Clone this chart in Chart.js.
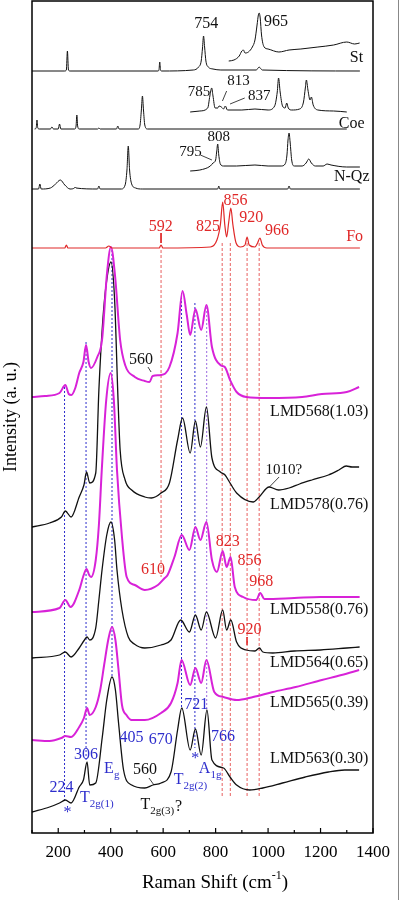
<!DOCTYPE html>
<html><head><meta charset="utf-8">
<script src="https://cdn.jsdelivr.net/npm/chart.js@4"></script>
<style>html,body{margin:0;padding:0;background:#fff}</style>
</head><body><canvas id="c" width="399" height="900"></canvas>
<script>
// ---------- data (Raman shift in cm-1, intensity in offset arbitrary units) ----------
const xTickValues = [200,400,600,800,1000,1200,1400];
const xMinorValues = [100,300,500,700,900,1100,1300];

const stX = [100,225,231,235,239,245,580,584,587,590,594,715,735,745,750,754,758,763,772,790,820,955,962,966,970,978,1350];
const stY = [762,762,763,782,763,762,762,763,771,763,762,763,766,772,785,797,786,772,766,764,763,763,765,766,765,763,762];
const stInsetX = [850,870,890,900,906,912,925,940,950,958,963,966,970,975,985,1000,1041,1080,1125,1190,1250,1300,1330,1349];
const stInsetY = [772,773,777,782,783,780,781,786,793,808,818,820,815,798,786,784,781,783,784,786,788,791,789,790];

const coeX = [110,116,119,122,128,170,176,182,200,205,210,263,268,271,274,280,350,355,360,422,427,432,505,512,517,521,525,530,540,1300];
const coeY = [704,705,713,705,704,704,706,704,704,709,704,704,707,718,707,704,704,705,704,704,707,704,704,708,723,737,723,708,704,704];
const coeInsetX = [703,740,770,778,785,790,798,808,813,822,830,837,845,900,950,1000,1025,1035,1040,1046,1055,1065,1071,1077,1090,1120,1135,1142,1146,1152,1160,1165,1172,1190,1250,1300];
const coeInsetY = [721,722,725,737,745,737,725,725,727,726,724,727,723,723,724,723,727,741,755,741,727,725,730,725,723,724,731,745,753,743,733,736,728,723,722,721];

const nqzX = [100,125,130,135,170,190,208,225,245,262,265,268,350,355,360,440,455,462,467,472,480,495,520,808,812,816,1075,1080,1085,1350];
const nqzY = [644,644,649,644,645,649,653,648,644,645,646,645,644,647,644,644,648,663,687,663,649,645,644,644,647,644,644,647,644,644];
const nqzInsetX = [703,740,780,790,800,804,808,812,818,830,880,950,1000,1050,1065,1072,1076,1080,1084,1090,1100,1130,1145,1155,1165,1180,1210,1225,1240,1300,1350];
const nqzInsetY = [662,663,667,670,673,681,689,678,669,667,667,668,667,667,669,678,693,700,691,673,667,667,670,674,670,667,667,669,668,666,666];

const foX = [100,225,231,237,380,393,405,585,592,599,780,805,818,827,835,842,850,858,866,878,895,912,920,928,950,960,969,978,995,1350];
const foY = [585,585,588,585,585,587,585,585,588,585,586,593,608,631,608,596,611,625,608,590,586,588,596,588,586,590,595,588,585,585];

const lmd568X = [100,150,205,227,240,250,265,280,296,306,316,325,349,367,386,401,417,436,455,492,530,548,560,592,624,655,674,690,703,723,745,765,786,818,835,855,880,917,1000,1130,1205,1300,1347];
const lmd568Y = [436,437,440,448,439,438,445,460,471,488,471,465,476,493,560,586,556,493,468,456,452,451,457,458,466,500,542,518,498,524,503,528,486,468,466,453,441,436,435,436,439,441,446];

const lmd578X = [100,167,212,227,249,280,298,308,320,343,355,370,385,401,415,428,436,455,480,530,555,592,624,655,674,703,723,742,765,786,818,836,855,880,943,966,1004,1040,1080,1120,1167,1230,1270,1298,1320,1347];
const lmd578Y = [306,310,316,322,316,336,348,361,350,360,443,513,553,571,533,433,383,353,343,336,335,340,350,393,415,380,412,386,426,375,361,358,350,340,331,336,346,343,345,349,353,358,363,367,366,366];

const lmd558X = [100,205,227,247,280,297,308,318,325,343,355,366,383,400,412,424,443,461,492,530,580,606,617,643,671,700,723,742,765,786,805,827,842,857,873,905,955,970,986,1100,1200,1349];
const lmd558Y = [221,225,233,226,243,258,264,258,256,273,308,363,433,460,433,363,296,256,248,243,248,255,258,276,298,283,306,293,311,273,261,282,266,276,246,236,233,240,234,235,236,236];

const lmd564X = [100,205,227,249,280,300,310,320,343,355,367,385,401,415,424,443,467,490,530,592,630,667,700,723,745,765,800,827,842,858,880,917,950,967,980,1018,1100,1200,1300,1349];
const lmd564Y = [175,178,181,176,185,193,196,193,205,233,263,298,311,293,263,223,196,189,185,188,193,213,201,218,203,221,195,223,203,213,191,183,182,185,181,180,182,183,185,186];

const lmd565X = [100,167,212,227,249,280,298,310,320,343,360,375,392,405,418,430,443,460,480,530,592,630,655,670,703,723,745,765,795,830,880,943,1018,1105,1205,1280,1347];
const lmd565Y = [93,92,95,97,96,106,115,125,118,126,143,168,195,206,193,163,128,118,113,113,120,130,150,173,148,165,150,173,141,136,133,136,141,146,153,158,163];

const lmd563X = [100,167,205,227,249,280,296,310,320,343,368,385,405,418,430,449,480,530,561,592,630,655,671,703,723,745,767,786,830,855,880,930,980,1055,1142,1230,1292,1347];
const lmd563Y = [21,26,30,33,30,46,53,71,48,50,96,133,156,143,110,63,48,45,48,50,61,103,125,83,104,78,123,73,65,56,48,43,45,50,56,61,63,63];

// reference positions (cm-1) and their vertical extents
const blueLineX = [224,306,405,670,721,766];
const blueLineTop = [446,491,583,540,530,526];
const blueLineBottom = [33,71,156,125,85,123];
const redLineX = [592,825,856,920,966];
const redLineTop = [583,590,590,590,590];
const redLineBottom = [256,36,36,36,36];

// ---------- styling ----------
const FONT = '"Liberation Serif","Times New Roman",serif';
const BLACK = '#111111', MAG = '#d822d8', RED = '#e02828', BLUE = '#2d2dcc';

function pts(xs, ys){ return xs.map((x,i)=>({x:x, y:ys[i]})); }
function spec(xs, ys, color, w){
  return {data: pts(xs,ys), borderColor: color, borderWidth: w, pointRadius: 0, fill: false,
          cubicInterpolationMode: 'monotone', order: 1};
}
function seg(x1,y1,x2,y2,color,dash,w){
  return {data:[{x:x1,y:y1},{x:x2,y:y2}], borderColor: color, borderWidth: w||1,
          borderDash: dash||[], pointRadius: 0, fill: false, order: 5, tension: 0};
}

const datasets = [
  spec(stX, stY, BLACK, 1), spec(stInsetX, stInsetY, BLACK, 1),
  spec(coeX, coeY, BLACK, 1), spec(coeInsetX, coeInsetY, BLACK, 1),
  spec(nqzX, nqzY, BLACK, 1), spec(nqzInsetX, nqzInsetY, BLACK, 1),
  spec(foX, foY, RED, 1.2),
  spec(lmd568X, lmd568Y, MAG, 2),
  spec(lmd578X, lmd578Y, BLACK, 1.3),
  spec(lmd558X, lmd558Y, MAG, 2),
  spec(lmd564X, lmd564Y, BLACK, 1.3),
  spec(lmd565X, lmd565Y, MAG, 2),
  spec(lmd563X, lmd563Y, BLACK, 1.3)
];
blueLineX.forEach((x,i)=>datasets.push(seg(x, blueLineTop[i], x, blueLineBottom[i], i===5?'#9a6adf':BLUE, [2,2], 1)));
redLineX.forEach((x,i)=>datasets.push(seg(x, redLineTop[i], x, redLineBottom[i], '#e86060', [3,2], 1)));
// leader lines
datasets.push(seg(826,732,842,742,BLACK,[],0.8));
datasets.push(seg(855,729,911,735,BLACK,[],0.8));
datasets.push(seg(742,678,786,673,BLACK,[],0.8));
datasets.push(seg(542,466,554,461,BLACK,[],0.8));
datasets.push(seg(1042,356,1005,346,BLACK,[],0.8));
datasets.push(seg(546,55,565,48,BLACK,[],0.8));
datasets.push(seg(592,600,592,590,RED,[],1));
datasets.push(seg(920,196,920,188,RED,[],1));

// text annotations: x in cm-1, y in intensity units
const labels = [
  {t:'754',x:764,y:809,c:BLACK},{t:'965',x:1030,y:811,c:BLACK},{t:'St',x:1337,y:775,c:BLACK},
  {t:'785',x:737,y:741,c:BLACK,s:15},{t:'813',x:887,y:752,c:BLACK,s:15},{t:'837',x:966,y:737,c:BLACK,s:15},{t:'Coe',x:1319,y:709,c:BLACK},
  {t:'795',x:704,y:681,c:BLACK,s:15},{t:'808',x:812,y:696,c:BLACK,s:15},{t:'N-Qz',x:1319,y:656,c:BLACK},
  {t:'592',x:591,y:606,c:RED},{t:'825',x:771,y:606,c:RED},{t:'856',x:876,y:632,c:RED},{t:'920',x:936,y:615,c:RED},{t:'966',x:1034,y:602,c:RED},{t:'Fo',x:1330,y:596,c:RED},
  {t:'560',x:516,y:473,c:BLACK},{t:'LMD568(1.03)',x:1195,y:421,c:BLACK},
  {t:'1010?',x:1060,y:363,c:BLACK,s:15},{t:'LMD578(0.76)',x:1195,y:328,c:BLACK},
  {t:'610',x:561,y:263,c:RED},{t:'823',x:846,y:291,c:RED},{t:'856',x:929,y:272,c:RED},{t:'968',x:974,y:251,c:RED},{t:'LMD558(0.76)',x:1195,y:223,c:BLACK},
  {t:'920',x:929,y:203,c:RED},{t:'LMD564(0.65)',x:1195,y:170,c:BLACK},
  {t:'LMD565(0.39)',x:1195,y:130,c:BLACK},
  {t:'LMD563(0.30)',x:1195,y:74,c:BLACK},
  {t:'224',x:212,y:45,c:BLUE},{t:'*',x:235,y:20,c:BLUE},{t:'306',x:306,y:78,c:BLUE},
  {t:'T',sub:'2g(1)',x:347,y:35,c:BLUE},{t:'E',sub:'g',x:404,y:64,c:BLUE},
  {t:'405',x:479,y:95,c:BLUE},{t:'670',x:591,y:93,c:BLUE},{t:'721',x:726,y:128,c:BLUE},
  {t:'*',x:722,y:74,c:BLUE},{t:'766',x:828,y:96,c:BLUE},{t:'A',sub:'1g',x:779,y:64,c:BLUE},
  {t:'T',sub:'2g(2)',x:704,y:53,c:BLUE},
  {t:'560',x:531,y:63,c:BLACK},{t:'T',sub:'2g(3)',tail:'?',x:591,y:28,c:BLACK}
];

const deco = {
  id: 'deco',
  afterDatasetsDraw(chart){
    const ctx = chart.ctx, xs = chart.scales.x, ys = chart.scales.y;
    ctx.save();
    ctx.textBaseline = 'middle';
    labels.forEach(l=>{
      const size = l.s || 16;
      const px = xs.getPixelForValue(l.x), py = ys.getPixelForValue(l.y);
      ctx.fillStyle = l.c;
      if (!l.sub){
        ctx.font = size + 'px ' + FONT; ctx.textAlign = 'center';
        ctx.fillText(l.t, px, py);
      } else {
        const subSize = 11;
        ctx.font = size + 'px ' + FONT; const w1 = ctx.measureText(l.t).width;
        ctx.font = subSize + 'px ' + FONT; const w2 = ctx.measureText(l.sub).width;
        let w3 = 0; if (l.tail){ ctx.font = size + 'px ' + FONT; w3 = ctx.measureText(l.tail).width; }
        let x0 = px - (w1+w2+w3)/2;
        ctx.textAlign = 'left';
        ctx.font = size + 'px ' + FONT; ctx.fillText(l.t, x0, py);
        ctx.font = subSize + 'px ' + FONT; ctx.fillText(l.sub, x0 + w1, py + 6);
        if (l.tail){ ctx.font = size + 'px ' + FONT; ctx.fillText(l.tail, x0 + w1 + w2 + 1, py + 2); }
      }
    });
    ctx.restore();
  },
  afterDraw(chart){
    const ctx = chart.ctx, a = chart.chartArea, xs = chart.scales.x;
    ctx.save();
    ctx.strokeStyle = '#000'; ctx.lineWidth = 1.5;
    ctx.strokeRect(a.left, a.top, a.right - a.left, a.bottom - a.top);
    ctx.lineWidth = 1.2;
    xTickValues.forEach(v=>{ const p = xs.getPixelForValue(v); ctx.beginPath(); ctx.moveTo(p, a.bottom); ctx.lineTo(p, a.bottom-5); ctx.stroke(); });
    xMinorValues.forEach(v=>{ const p = xs.getPixelForValue(v); ctx.beginPath(); ctx.moveTo(p, a.bottom); ctx.lineTo(p, a.bottom-3); ctx.stroke(); });
    // outer edge line
    ctx.strokeStyle = '#888'; ctx.lineWidth = 1;
    ctx.beginPath(); ctx.moveTo(398.5, 0); ctx.lineTo(398.5, 900); ctx.stroke();
    // x axis title with superscript
    ctx.fillStyle = '#000'; ctx.textBaseline = 'middle'; ctx.textAlign = 'left';
    const t1 = 'Raman Shift (cm', t2 = '-1', t3 = ')';
    ctx.font = '19px ' + FONT; const w1 = ctx.measureText(t1).width, w3 = ctx.measureText(t3).width;
    ctx.font = '12px ' + FONT; const w2 = ctx.measureText(t2).width;
    let x0 = 215 - (w1+w2+w3)/2;
    ctx.font = '19px ' + FONT; ctx.fillText(t1, x0, 883);
    ctx.font = '12px ' + FONT; ctx.fillText(t2, x0 + w1, 876);
    ctx.font = '19px ' + FONT; ctx.fillText(t3, x0 + w1 + w2, 883);
    ctx.restore();
  }
};

new Chart(document.getElementById('c'), {
  type: 'line',
  data: { datasets },
  options: {
    responsive: false, animation: false,
    layout: { padding: { left: 0, right: 21, top: 1, bottom: 0 } },
    plugins: { legend: { display: false }, tooltip: { enabled: false } },
    scales: {
      x: {
        type: 'linear', min: 100, max: 1400,
        afterBuildTicks: s => { s.ticks = xTickValues.map(v => ({value: v})); },
        ticks: { font: { family: FONT, size: 17 }, color: '#000', padding: 9, maxRotation: 0, autoSkip: false,
                 callback: v => String(v) },
        grid: { display: false, drawTicks: false },
        border: { display: false },
        afterFit: s => { s.height = 67; }
      },
      y: {
        type: 'linear', min: 0, max: 832,
        ticks: { display: false },
        grid: { display: false, drawTicks: false },
        border: { display: false },
        title: { display: true, text: 'Intensity (a. u.)', color: '#000', font: { family: FONT, size: 18 }, padding: { top: 0.5, bottom: 0 } },
        afterFit: s => { s.width = 32; }
      }
    }
  },
  plugins: [deco]
});
</script>
</body></html>
